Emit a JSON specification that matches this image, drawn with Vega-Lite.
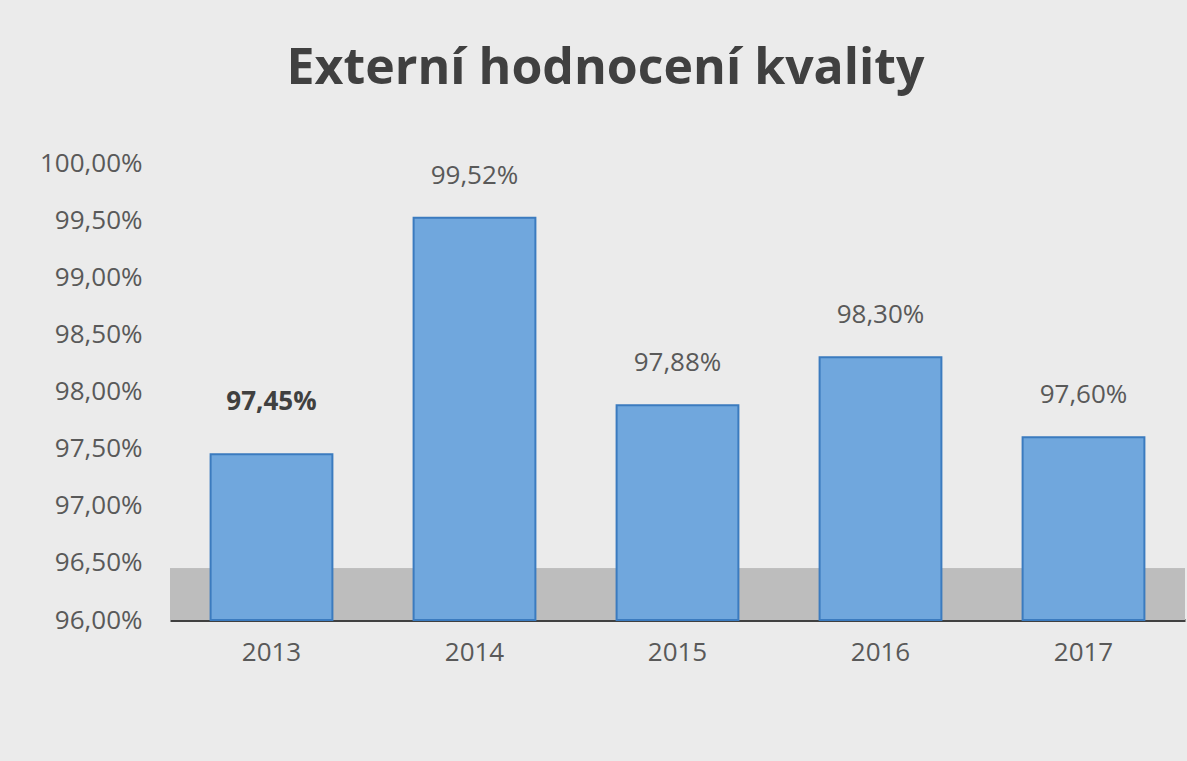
{
  "$schema": "https://vega.github.io/schema/vega-lite/v6.json",
  "autosize": {"type": "none"},
  "width": 1015,
  "height": 457,
  "padding": {"left": 170, "top": 163, "right": 2, "bottom": 141},
  "background": "#ebebeb",
  "title": {
    "text": "Externí hodnocení kvality",
    "font": "Open Sans",
    "fontSize": 50,
    "fontWeight": "bold",
    "color": "#404040",
    "anchor": "middle",
    "dx": -72,
    "offset": 56
  },
  "config": {
    "locale": {"number": {"decimal": ",", "thousands": " ", "grouping": [3], "currency": ["", " Kč"], "percent": "%"}},
    "view": {"stroke": null},
    "font": "Open Sans"
  },
  "data": {
    "values": [
      {"year": "2013", "value": 0.9745},
      {"year": "2014", "value": 0.9952},
      {"year": "2015", "value": 0.9788},
      {"year": "2016", "value": 0.983},
      {"year": "2017", "value": 0.976}
    ]
  },
  "encoding": {
    "x": {
      "field": "year",
      "type": "nominal",
      "scale": {"paddingInner": 0.4, "paddingOuter": 0.2},
      "axis": {
        "title": null,
        "labelAngle": 0,
        "labelFontSize": 26,
        "labelColor": "#595959",
        "labelPadding": 19,
        "ticks": false,
        "domainColor": "#404040",
        "domainWidth": 3,
        "grid": false
      }
    }
  },
  "layer": [
    {
      "mark": {"type": "rect", "color": "#bdbdbd"},
      "encoding": {
        "x": null,
        "y": {"datum": 0.96, "type": "quantitative", "scale": {"domain": [0.96, 1.0], "zero": false}},
        "y2": {"datum": 0.9645}
      }
    },
    {
      "mark": {"type": "bar", "fill": "#70a7dd", "stroke": "#3b7bbf", "strokeWidth": 2},
      "encoding": {
        "y": {
          "field": "value",
          "type": "quantitative",
          "scale": {"domain": [0.96, 1.0], "zero": false},
          "axis": {
            "title": null,
            "format": ".2%",
            "values": [0.96, 0.965, 0.97, 0.975, 0.98, 0.985, 0.99, 0.995, 1.0],
            "labelFontSize": 26,
            "labelColor": "#595959",
            "labelPadding": 28,
            "ticks": false,
            "domain": false,
            "gridColor": "#d4d4d4",
            "gridWidth": 1.5
          }
        },
        "y2": {"datum": 0.96}
      }
    },
    {
      "transform": [{"filter": "datum.year == '2013'"}],
      "mark": {"type": "text", "fontSize": 26, "fontWeight": "bold", "color": "#404040", "dy": -52},
      "encoding": {
        "y": {"field": "value", "type": "quantitative"},
        "text": {"field": "value", "type": "quantitative", "format": ".2%"}
      }
    },
    {
      "transform": [{"filter": "datum.year != '2013'"}],
      "mark": {"type": "text", "fontSize": 26, "color": "#595959", "dy": -42},
      "encoding": {
        "y": {"field": "value", "type": "quantitative"},
        "text": {"field": "value", "type": "quantitative", "format": ".2%"}
      }
    }
  ]
}
